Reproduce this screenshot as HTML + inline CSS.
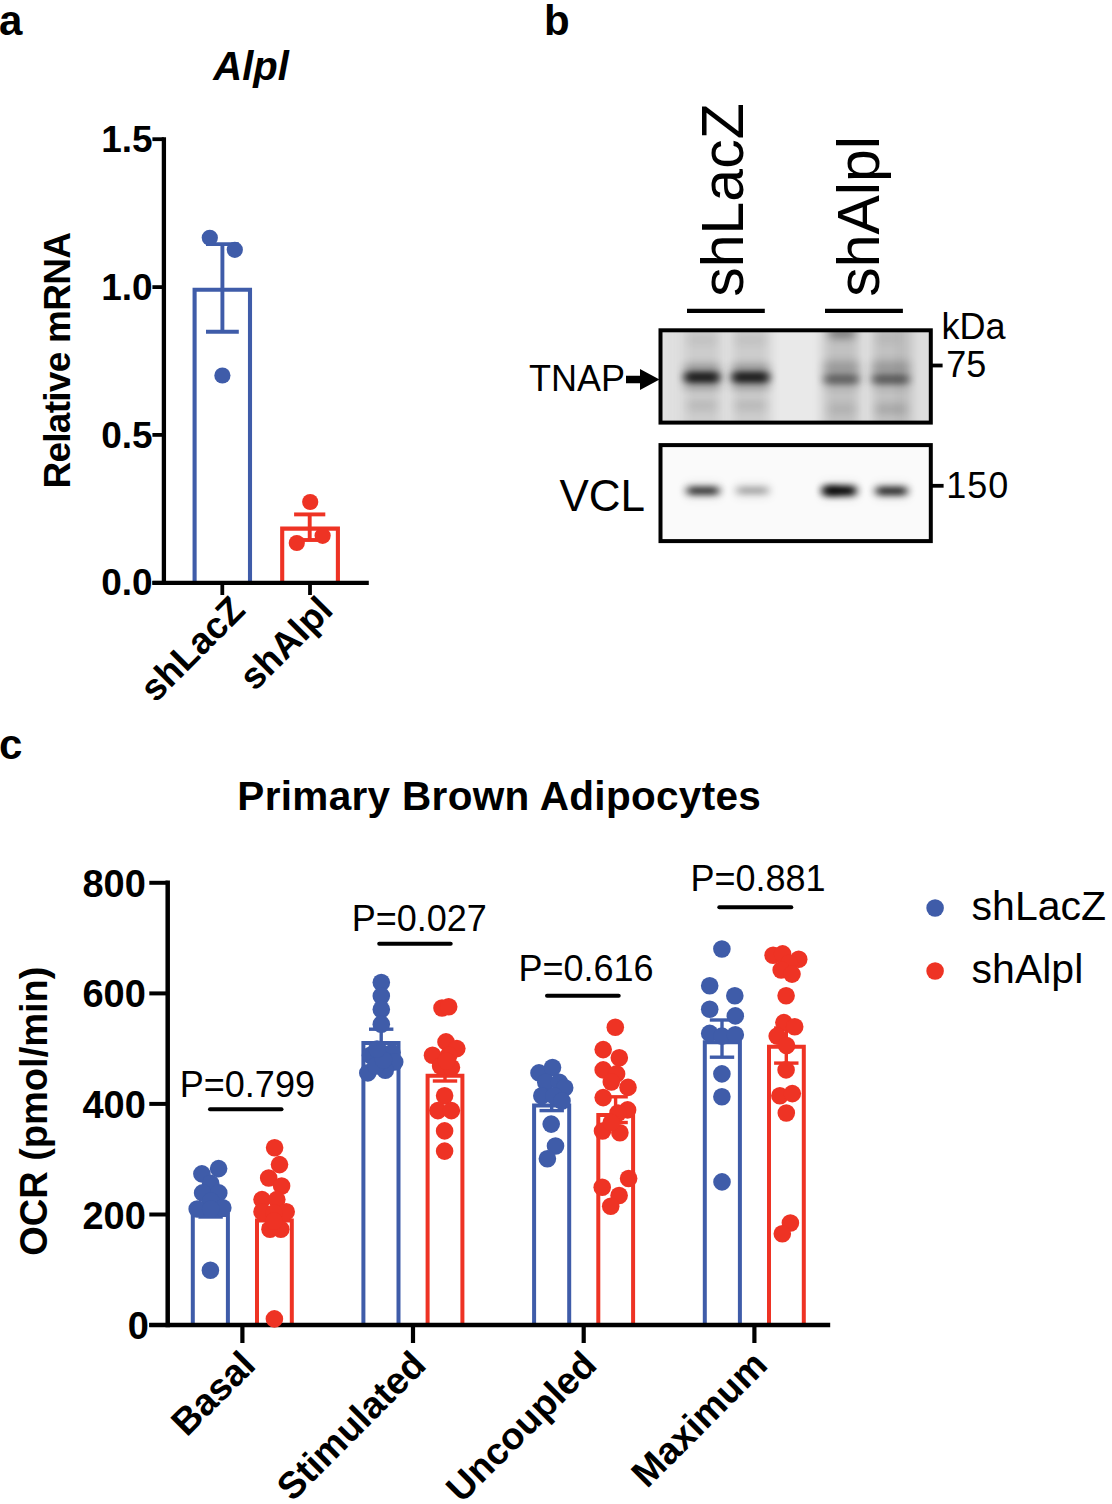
<!DOCTYPE html>
<html><head><meta charset="utf-8"><title>Figure</title>
<style>html,body{margin:0;padding:0;background:#fff;}svg{display:block;}text{font-family:"Liberation Sans",sans-serif;fill:#000;}</style>
</head><body>
<svg width="1112" height="1504" viewBox="0 0 1112 1504">
<rect width="1112" height="1504" fill="#fff"/>
<text x="-1.0" y="34.6" font-size="42" font-weight="bold" font-style="normal" text-anchor="start">a</text>
<text x="213.3" y="79.8" font-size="40" font-weight="bold" font-style="italic" text-anchor="start">Alpl</text>
<path d="M194.6 582.8 V289.8 H250.0 V582.8" fill="none" stroke="#3F5CA9" stroke-width="4.1"/>
<path d="M282.2 582.8 V528.6 H337.9 V582.8" fill="none" stroke="#EE3324" stroke-width="4.1"/>
<line x1="163.9" y1="137.2" x2="163.9" y2="584.9" stroke="#000" stroke-width="4.3" stroke-linecap="butt"/>
<line x1="152.4" y1="582.8" x2="368.8" y2="582.8" stroke="#000" stroke-width="4.3" stroke-linecap="butt"/>
<line x1="152.4" y1="582.8" x2="163.9" y2="582.8" stroke="#000" stroke-width="3.8" stroke-linecap="butt"/>
<text x="152.6" y="595.4" font-size="37" font-weight="bold" font-style="normal" text-anchor="end">0.0</text>
<line x1="152.4" y1="434.9" x2="163.9" y2="434.9" stroke="#000" stroke-width="3.8" stroke-linecap="butt"/>
<text x="152.6" y="447.5" font-size="37" font-weight="bold" font-style="normal" text-anchor="end">0.5</text>
<line x1="152.4" y1="287.1" x2="163.9" y2="287.1" stroke="#000" stroke-width="3.8" stroke-linecap="butt"/>
<text x="152.6" y="299.7" font-size="37" font-weight="bold" font-style="normal" text-anchor="end">1.0</text>
<line x1="152.4" y1="139.2" x2="163.9" y2="139.2" stroke="#000" stroke-width="3.8" stroke-linecap="butt"/>
<text x="152.6" y="151.8" font-size="37" font-weight="bold" font-style="normal" text-anchor="end">1.5</text>
<line x1="222.3" y1="582.8" x2="222.3" y2="595.0" stroke="#000" stroke-width="3.8" stroke-linecap="butt"/>
<line x1="310.0" y1="582.8" x2="310.0" y2="595.0" stroke="#000" stroke-width="3.8" stroke-linecap="butt"/>
<line x1="222.4" y1="244.1" x2="222.4" y2="331.7" stroke="#3F5CA9" stroke-width="3.9" stroke-linecap="butt"/>
<line x1="206.0" y1="244.1" x2="238.8" y2="244.1" stroke="#3F5CA9" stroke-width="3.9" stroke-linecap="butt"/>
<line x1="206.0" y1="331.7" x2="238.8" y2="331.7" stroke="#3F5CA9" stroke-width="3.9" stroke-linecap="butt"/>
<line x1="309.7" y1="514.4" x2="309.7" y2="540.0" stroke="#EE3324" stroke-width="3.9" stroke-linecap="butt"/>
<line x1="294.1" y1="514.4" x2="325.3" y2="514.4" stroke="#EE3324" stroke-width="3.9" stroke-linecap="butt"/>
<line x1="294.1" y1="540.0" x2="325.3" y2="540.0" stroke="#EE3324" stroke-width="3.9" stroke-linecap="butt"/>
<circle cx="209.8" cy="237.8" r="8.1" fill="#3F5CA9"/>
<circle cx="234.8" cy="249.8" r="8.1" fill="#3F5CA9"/>
<circle cx="222.4" cy="375.5" r="8.1" fill="#3F5CA9"/>
<circle cx="310.2" cy="502.0" r="8.1" fill="#EE3324"/>
<circle cx="296.8" cy="543.0" r="8.1" fill="#EE3324"/>
<circle cx="322.6" cy="535.8" r="8.1" fill="#EE3324"/>
<text x="69.9" y="360.3" font-size="37" font-weight="bold" font-style="normal" text-anchor="middle" transform="rotate(-90 69.9 360.3)" textLength="256.5" lengthAdjust="spacing">Relative mRNA</text>
<text x="247.0" y="612.0" font-size="37" font-weight="bold" font-style="normal" text-anchor="end" transform="rotate(-45 247.0 612.0)">shLacZ</text>
<text x="334.7" y="612.0" font-size="37" font-weight="bold" font-style="normal" text-anchor="end" transform="rotate(-45 334.7 612.0)">shAlpl</text>
<text x="544.1" y="34.6" font-size="42" font-weight="bold" font-style="normal" text-anchor="start">b</text>
<text x="742.6" y="296.8" font-size="59" font-weight="normal" font-style="normal" text-anchor="start" transform="rotate(-90 742.6 296.8)">shLacZ</text>
<text x="878.6" y="296.8" font-size="59" font-weight="normal" font-style="normal" text-anchor="start" transform="rotate(-90 878.6 296.8)">shAlpl</text>
<line x1="687.0" y1="310.8" x2="764.8" y2="310.8" stroke="#000" stroke-width="4.2" stroke-linecap="butt"/>
<line x1="825.0" y1="310.8" x2="902.9" y2="310.8" stroke="#000" stroke-width="4.2" stroke-linecap="butt"/>
<defs>
<filter id="b3" x="-40%" y="-150%" width="180%" height="400%"><feGaussianBlur stdDeviation="4 2.8"/></filter>
<filter id="b4" x="-40%" y="-200%" width="180%" height="500%"><feGaussianBlur stdDeviation="4.2 3.0"/></filter>
<filter id="b5" x="-40%" y="-150%" width="180%" height="400%"><feGaussianBlur stdDeviation="5 4.5"/></filter>
<filter id="b8" x="-50%" y="-50%" width="200%" height="200%"><feGaussianBlur stdDeviation="6 8"/></filter>
<clipPath id="c1"><rect x="660.5" y="330.3" width="270.3" height="92.3"/></clipPath>
<clipPath id="c2"><rect x="660.5" y="445.1" width="270.3" height="96.0"/></clipPath>
</defs>
<g clip-path="url(#c1)">
<rect x="655" y="325" width="285" height="105" fill="#e9e9e9"/>
<rect x="683" y="312" width="39" height="128" rx="0" fill="#000" opacity="0.12" filter="url(#b8)"/>
<rect x="731" y="312" width="39" height="128" rx="0" fill="#000" opacity="0.12" filter="url(#b8)"/>
<rect x="823" y="312" width="37" height="128" rx="0" fill="#000" opacity="0.17" filter="url(#b8)"/>
<rect x="871" y="312" width="39" height="128" rx="0" fill="#000" opacity="0.17" filter="url(#b8)"/>
<rect x="900" y="312" width="40" height="128" rx="0" fill="#000" opacity="0.05" filter="url(#b8)"/>
<rect x="660" y="312" width="20" height="128" rx="0" fill="#000" opacity="0.04" filter="url(#b8)"/>
<rect x="684" y="364.5" width="36" height="24" rx="4" fill="#000" opacity="0.3" filter="url(#b5)"/>
<rect x="685" y="372" width="34" height="10.5" rx="4" fill="#000" opacity="0.74" filter="url(#b3)"/>
<rect x="687" y="401" width="30" height="9" rx="4" fill="#000" opacity="0.1" filter="url(#b5)"/>
<rect x="687" y="336" width="30" height="8" rx="4" fill="#000" opacity="0.06" filter="url(#b5)"/>
<rect x="731.5" y="364.5" width="38" height="24" rx="4" fill="#000" opacity="0.3" filter="url(#b5)"/>
<rect x="732.5" y="372" width="36" height="10.5" rx="4" fill="#000" opacity="0.74" filter="url(#b3)"/>
<rect x="734.5" y="401" width="32" height="9" rx="4" fill="#000" opacity="0.1" filter="url(#b5)"/>
<rect x="734.5" y="336" width="32" height="8" rx="4" fill="#000" opacity="0.06" filter="url(#b5)"/>
<rect x="823.5" y="361" width="36" height="26" rx="4" fill="#000" opacity="0.2" filter="url(#b5)"/>
<rect x="824.5" y="374.5" width="34" height="9.5" rx="4" fill="#000" opacity="0.33" filter="url(#b3)"/>
<rect x="871.5" y="361" width="38" height="26" rx="4" fill="#000" opacity="0.2" filter="url(#b5)"/>
<rect x="872.5" y="374.5" width="36" height="9.5" rx="4" fill="#000" opacity="0.36" filter="url(#b3)"/>
<rect x="829" y="328" width="26" height="10" rx="4" fill="#000" opacity="0.38" filter="url(#b5)"/>
<rect x="876" y="334" width="24" height="8" rx="4" fill="#000" opacity="0.06" filter="url(#b5)"/>
<rect x="828" y="405" width="28" height="8" rx="4" fill="#000" opacity="0.1" filter="url(#b5)"/>
<rect x="875" y="405" width="32" height="8" rx="4" fill="#000" opacity="0.16" filter="url(#b5)"/>
</g>
<rect x="660.5" y="330.3" width="270.3" height="92.3" fill="none" stroke="#000" stroke-width="4.0"/>
<g clip-path="url(#c2)">
<rect x="655" y="440" width="285" height="110" fill="#fafafa"/>
<rect x="684" y="481.8" width="38" height="18.0" rx="5" fill="#000" opacity="0.07" filter="url(#b5)"/>
<rect x="687" y="486.8" width="32" height="8.0" rx="4" fill="#000" opacity="0.8" filter="url(#b4)"/>
<rect x="734" y="482.6" width="37" height="16.0" rx="5" fill="#000" opacity="0.07" filter="url(#b5)"/>
<rect x="737" y="487.6" width="31" height="6.0" rx="4" fill="#000" opacity="0.34" filter="url(#b4)"/>
<rect x="820" y="480.8" width="39" height="20.0" rx="5" fill="#000" opacity="0.07" filter="url(#b5)"/>
<rect x="823" y="485.8" width="33" height="10.0" rx="4" fill="#000" opacity="0.98" filter="url(#b4)"/>
<rect x="873" y="481.8" width="37" height="18.5" rx="5" fill="#000" opacity="0.07" filter="url(#b5)"/>
<rect x="876" y="486.8" width="31" height="8.5" rx="4" fill="#000" opacity="0.84" filter="url(#b4)"/>
<rect x="823" y="486.5" width="18" height="8.5" rx="4" fill="#000" opacity="0.35" filter="url(#b4)"/>
</g>
<rect x="660.5" y="445.1" width="270.3" height="96.0" fill="none" stroke="#000" stroke-width="4.0"/>
<text x="941.5" y="339.1" font-size="36" font-weight="normal" font-style="normal" text-anchor="start">kDa</text>
<text x="946.3" y="377.0" font-size="36" font-weight="normal" font-style="normal" text-anchor="start">75</text>
<text x="946.2" y="498.2" font-size="36" font-weight="normal" font-style="normal" text-anchor="start" textLength="62" lengthAdjust="spacing">150</text>
<line x1="932.0" y1="365.5" x2="942.6" y2="365.5" stroke="#000" stroke-width="3.8" stroke-linecap="butt"/>
<line x1="932.0" y1="485.8" x2="943.6" y2="485.8" stroke="#000" stroke-width="3.8" stroke-linecap="butt"/>
<text x="625.0" y="390.8" font-size="36" font-weight="normal" font-style="normal" text-anchor="end">TNAP</text>
<path d="M626 375.8 H640 V369.1 L659.5 379.5 L640 390 V383.2 H626 Z" fill="#000"/>
<text x="559.5" y="510.7" font-size="44" font-weight="normal" font-style="normal" text-anchor="start">VCL</text>
<text x="-1.0" y="758.5" font-size="42" font-weight="bold" font-style="normal" text-anchor="start">c</text>
<text x="237.3" y="810.3" font-size="40.5" font-weight="bold" font-style="normal" text-anchor="start" textLength="523.6" lengthAdjust="spacing">Primary Brown Adipocytes</text>
<path d="M192.8 1325.0 V1215.0 H227.9 V1325.0" fill="none" stroke="#3F5CA9" stroke-width="4.0"/>
<path d="M257.0 1325.0 V1220.5 H291.8 V1325.0" fill="none" stroke="#EE3324" stroke-width="4.0"/>
<path d="M363.4 1325.0 V1043.0 H398.5 V1325.0" fill="none" stroke="#3F5CA9" stroke-width="4.0"/>
<path d="M427.6 1325.0 V1075.7 H462.4 V1325.0" fill="none" stroke="#EE3324" stroke-width="4.0"/>
<path d="M534.1 1325.0 V1105.4 H569.2 V1325.0" fill="none" stroke="#3F5CA9" stroke-width="4.0"/>
<path d="M598.3 1325.0 V1115.0 H633.1 V1325.0" fill="none" stroke="#EE3324" stroke-width="4.0"/>
<path d="M704.8 1325.0 V1042.3 H739.9 V1325.0" fill="none" stroke="#3F5CA9" stroke-width="4.0"/>
<path d="M769.0 1325.0 V1046.8 H803.8 V1325.0" fill="none" stroke="#EE3324" stroke-width="4.0"/>
<line x1="167.7" y1="880.6" x2="167.7" y2="1327.2" stroke="#000" stroke-width="4.5" stroke-linecap="butt"/>
<line x1="149.3" y1="1325.0" x2="830.2" y2="1325.0" stroke="#000" stroke-width="4.5" stroke-linecap="butt"/>
<line x1="149.3" y1="1325.0" x2="167.7" y2="1325.0" stroke="#000" stroke-width="4.0" stroke-linecap="butt"/>
<text x="149.0" y="1339.0" font-size="38" font-weight="bold" font-style="normal" text-anchor="end">0</text>
<line x1="149.3" y1="1214.5" x2="167.7" y2="1214.5" stroke="#000" stroke-width="4.0" stroke-linecap="butt"/>
<text x="145.8" y="1228.5" font-size="38" font-weight="bold" font-style="normal" text-anchor="end">200</text>
<line x1="149.3" y1="1103.9" x2="167.7" y2="1103.9" stroke="#000" stroke-width="4.0" stroke-linecap="butt"/>
<text x="145.8" y="1117.9" font-size="38" font-weight="bold" font-style="normal" text-anchor="end">400</text>
<line x1="149.3" y1="993.4" x2="167.7" y2="993.4" stroke="#000" stroke-width="4.0" stroke-linecap="butt"/>
<text x="145.8" y="1007.4" font-size="38" font-weight="bold" font-style="normal" text-anchor="end">600</text>
<line x1="149.3" y1="882.8" x2="167.7" y2="882.8" stroke="#000" stroke-width="4.0" stroke-linecap="butt"/>
<text x="145.8" y="896.8" font-size="38" font-weight="bold" font-style="normal" text-anchor="end">800</text>
<line x1="242.4" y1="1325.0" x2="242.4" y2="1343.0" stroke="#000" stroke-width="4.2" stroke-linecap="butt"/>
<line x1="413.0" y1="1325.0" x2="413.0" y2="1343.0" stroke="#000" stroke-width="4.2" stroke-linecap="butt"/>
<line x1="583.7" y1="1325.0" x2="583.7" y2="1343.0" stroke="#000" stroke-width="4.2" stroke-linecap="butt"/>
<line x1="754.4" y1="1325.0" x2="754.4" y2="1343.0" stroke="#000" stroke-width="4.2" stroke-linecap="butt"/>
<line x1="210.6" y1="1203.0" x2="210.6" y2="1217.0" stroke="#3F5CA9" stroke-width="3.4" stroke-linecap="butt"/>
<line x1="198.4" y1="1203.0" x2="222.8" y2="1203.0" stroke="#3F5CA9" stroke-width="3.4" stroke-linecap="butt"/>
<line x1="198.4" y1="1217.0" x2="222.8" y2="1217.0" stroke="#3F5CA9" stroke-width="3.4" stroke-linecap="butt"/>
<line x1="274.2" y1="1208.0" x2="274.2" y2="1226.0" stroke="#EE3324" stroke-width="3.4" stroke-linecap="butt"/>
<line x1="262.0" y1="1208.0" x2="286.4" y2="1208.0" stroke="#EE3324" stroke-width="3.4" stroke-linecap="butt"/>
<line x1="262.0" y1="1226.0" x2="286.4" y2="1226.0" stroke="#EE3324" stroke-width="3.4" stroke-linecap="butt"/>
<line x1="381.2" y1="1029.2" x2="381.2" y2="1053.0" stroke="#3F5CA9" stroke-width="3.4" stroke-linecap="butt"/>
<line x1="369.0" y1="1029.2" x2="393.4" y2="1029.2" stroke="#3F5CA9" stroke-width="3.4" stroke-linecap="butt"/>
<line x1="369.0" y1="1053.0" x2="393.4" y2="1053.0" stroke="#3F5CA9" stroke-width="3.4" stroke-linecap="butt"/>
<line x1="445.0" y1="1066.0" x2="445.0" y2="1081.0" stroke="#EE3324" stroke-width="3.4" stroke-linecap="butt"/>
<line x1="432.8" y1="1066.0" x2="457.2" y2="1066.0" stroke="#EE3324" stroke-width="3.4" stroke-linecap="butt"/>
<line x1="432.8" y1="1081.0" x2="457.2" y2="1081.0" stroke="#EE3324" stroke-width="3.4" stroke-linecap="butt"/>
<line x1="551.7" y1="1096.0" x2="551.7" y2="1110.6" stroke="#3F5CA9" stroke-width="3.4" stroke-linecap="butt"/>
<line x1="539.5" y1="1096.0" x2="563.9" y2="1096.0" stroke="#3F5CA9" stroke-width="3.4" stroke-linecap="butt"/>
<line x1="539.5" y1="1110.6" x2="563.9" y2="1110.6" stroke="#3F5CA9" stroke-width="3.4" stroke-linecap="butt"/>
<line x1="615.6" y1="1096.8" x2="615.6" y2="1122.5" stroke="#EE3324" stroke-width="3.4" stroke-linecap="butt"/>
<line x1="603.4" y1="1096.8" x2="627.8" y2="1096.8" stroke="#EE3324" stroke-width="3.4" stroke-linecap="butt"/>
<line x1="603.4" y1="1122.5" x2="627.8" y2="1122.5" stroke="#EE3324" stroke-width="3.4" stroke-linecap="butt"/>
<line x1="722.0" y1="1020.0" x2="722.0" y2="1057.2" stroke="#3F5CA9" stroke-width="3.4" stroke-linecap="butt"/>
<line x1="709.8" y1="1020.0" x2="734.2" y2="1020.0" stroke="#3F5CA9" stroke-width="3.4" stroke-linecap="butt"/>
<line x1="709.8" y1="1057.2" x2="734.2" y2="1057.2" stroke="#3F5CA9" stroke-width="3.4" stroke-linecap="butt"/>
<line x1="786.3" y1="1028.0" x2="786.3" y2="1063.1" stroke="#EE3324" stroke-width="3.4" stroke-linecap="butt"/>
<line x1="774.1" y1="1028.0" x2="798.5" y2="1028.0" stroke="#EE3324" stroke-width="3.4" stroke-linecap="butt"/>
<line x1="774.1" y1="1063.1" x2="798.5" y2="1063.1" stroke="#EE3324" stroke-width="3.4" stroke-linecap="butt"/>
<circle cx="210.4" cy="1270.3" r="8.8" fill="#3F5CA9"/>
<circle cx="201.9" cy="1173.9" r="8.8" fill="#3F5CA9"/>
<circle cx="218.6" cy="1168.6" r="8.8" fill="#3F5CA9"/>
<circle cx="210.7" cy="1183.4" r="8.8" fill="#3F5CA9"/>
<circle cx="202.6" cy="1192.9" r="8.8" fill="#3F5CA9"/>
<circle cx="218.8" cy="1192.9" r="8.8" fill="#3F5CA9"/>
<circle cx="210.7" cy="1201.0" r="8.8" fill="#3F5CA9"/>
<circle cx="197.2" cy="1209.0" r="8.8" fill="#3F5CA9"/>
<circle cx="222.8" cy="1207.7" r="8.8" fill="#3F5CA9"/>
<circle cx="210.7" cy="1209.0" r="8.8" fill="#3F5CA9"/>
<circle cx="381.3" cy="982.5" r="8.8" fill="#3F5CA9"/>
<circle cx="381.3" cy="996.0" r="8.8" fill="#3F5CA9"/>
<circle cx="381.3" cy="1009.5" r="8.8" fill="#3F5CA9"/>
<circle cx="381.3" cy="1024.3" r="8.8" fill="#3F5CA9"/>
<circle cx="370.5" cy="1055.3" r="8.8" fill="#3F5CA9"/>
<circle cx="381.3" cy="1052.6" r="8.8" fill="#3F5CA9"/>
<circle cx="392.0" cy="1052.6" r="8.8" fill="#3F5CA9"/>
<circle cx="394.7" cy="1062.0" r="8.8" fill="#3F5CA9"/>
<circle cx="367.8" cy="1072.9" r="8.8" fill="#3F5CA9"/>
<circle cx="385.3" cy="1070.2" r="8.8" fill="#3F5CA9"/>
<circle cx="375.9" cy="1066.0" r="8.8" fill="#3F5CA9"/>
<circle cx="383.5" cy="1060.0" r="8.8" fill="#3F5CA9"/>
<circle cx="377.0" cy="1049.0" r="8.8" fill="#3F5CA9"/>
<circle cx="539.0" cy="1072.9" r="8.8" fill="#3F5CA9"/>
<circle cx="552.5" cy="1067.5" r="8.8" fill="#3F5CA9"/>
<circle cx="545.8" cy="1082.3" r="8.8" fill="#3F5CA9"/>
<circle cx="559.3" cy="1082.3" r="8.8" fill="#3F5CA9"/>
<circle cx="564.7" cy="1087.7" r="8.8" fill="#3F5CA9"/>
<circle cx="541.8" cy="1095.8" r="8.8" fill="#3F5CA9"/>
<circle cx="553.9" cy="1095.8" r="8.8" fill="#3F5CA9"/>
<circle cx="562.0" cy="1101.0" r="8.8" fill="#3F5CA9"/>
<circle cx="551.2" cy="1124.1" r="8.8" fill="#3F5CA9"/>
<circle cx="555.5" cy="1146.0" r="8.8" fill="#3F5CA9"/>
<circle cx="547.4" cy="1158.8" r="8.8" fill="#3F5CA9"/>
<circle cx="721.9" cy="949.0" r="8.8" fill="#3F5CA9"/>
<circle cx="709.7" cy="985.7" r="8.8" fill="#3F5CA9"/>
<circle cx="734.8" cy="995.7" r="8.8" fill="#3F5CA9"/>
<circle cx="709.7" cy="1009.2" r="8.8" fill="#3F5CA9"/>
<circle cx="735.3" cy="1015.9" r="8.8" fill="#3F5CA9"/>
<circle cx="709.7" cy="1033.4" r="8.8" fill="#3F5CA9"/>
<circle cx="721.9" cy="1036.1" r="8.8" fill="#3F5CA9"/>
<circle cx="735.3" cy="1034.8" r="8.8" fill="#3F5CA9"/>
<circle cx="721.9" cy="1073.9" r="8.8" fill="#3F5CA9"/>
<circle cx="721.9" cy="1096.8" r="8.8" fill="#3F5CA9"/>
<circle cx="722.0" cy="1181.9" r="8.8" fill="#3F5CA9"/>
<circle cx="274.4" cy="1318.9" r="8.8" fill="#EE3324"/>
<circle cx="274.6" cy="1147.8" r="8.8" fill="#EE3324"/>
<circle cx="279.5" cy="1164.6" r="8.8" fill="#EE3324"/>
<circle cx="268.7" cy="1178.0" r="8.8" fill="#EE3324"/>
<circle cx="281.6" cy="1186.0" r="8.8" fill="#EE3324"/>
<circle cx="262.0" cy="1199.6" r="8.8" fill="#EE3324"/>
<circle cx="276.8" cy="1199.6" r="8.8" fill="#EE3324"/>
<circle cx="286.2" cy="1211.8" r="8.8" fill="#EE3324"/>
<circle cx="262.0" cy="1211.8" r="8.8" fill="#EE3324"/>
<circle cx="274.0" cy="1213.0" r="8.8" fill="#EE3324"/>
<circle cx="270.0" cy="1229.3" r="8.8" fill="#EE3324"/>
<circle cx="280.8" cy="1229.3" r="8.8" fill="#EE3324"/>
<circle cx="274.0" cy="1221.0" r="8.8" fill="#EE3324"/>
<circle cx="442.0" cy="1008.0" r="8.8" fill="#EE3324"/>
<circle cx="448.7" cy="1006.8" r="8.8" fill="#EE3324"/>
<circle cx="446.0" cy="1041.9" r="8.8" fill="#EE3324"/>
<circle cx="456.8" cy="1048.6" r="8.8" fill="#EE3324"/>
<circle cx="432.5" cy="1055.3" r="8.8" fill="#EE3324"/>
<circle cx="448.7" cy="1055.3" r="8.8" fill="#EE3324"/>
<circle cx="440.6" cy="1066.0" r="8.8" fill="#EE3324"/>
<circle cx="451.4" cy="1067.5" r="8.8" fill="#EE3324"/>
<circle cx="444.6" cy="1095.8" r="8.8" fill="#EE3324"/>
<circle cx="437.9" cy="1110.6" r="8.8" fill="#EE3324"/>
<circle cx="451.4" cy="1110.6" r="8.8" fill="#EE3324"/>
<circle cx="444.6" cy="1130.9" r="8.8" fill="#EE3324"/>
<circle cx="444.6" cy="1151.1" r="8.8" fill="#EE3324"/>
<circle cx="446.5" cy="1061.0" r="8.8" fill="#EE3324"/>
<circle cx="615.3" cy="1027.2" r="8.8" fill="#EE3324"/>
<circle cx="603.2" cy="1049.6" r="8.8" fill="#EE3324"/>
<circle cx="619.3" cy="1057.7" r="8.8" fill="#EE3324"/>
<circle cx="603.2" cy="1069.9" r="8.8" fill="#EE3324"/>
<circle cx="616.6" cy="1073.9" r="8.8" fill="#EE3324"/>
<circle cx="611.3" cy="1082.0" r="8.8" fill="#EE3324"/>
<circle cx="628.0" cy="1087.4" r="8.8" fill="#EE3324"/>
<circle cx="603.2" cy="1097.6" r="8.8" fill="#EE3324"/>
<circle cx="627.6" cy="1109.9" r="8.8" fill="#EE3324"/>
<circle cx="618.0" cy="1113.0" r="8.8" fill="#EE3324"/>
<circle cx="602.5" cy="1131.0" r="8.8" fill="#EE3324"/>
<circle cx="619.9" cy="1132.8" r="8.8" fill="#EE3324"/>
<circle cx="611.2" cy="1122.6" r="8.8" fill="#EE3324"/>
<circle cx="628.6" cy="1178.5" r="8.8" fill="#EE3324"/>
<circle cx="602.2" cy="1187.2" r="8.8" fill="#EE3324"/>
<circle cx="619.1" cy="1195.5" r="8.8" fill="#EE3324"/>
<circle cx="610.7" cy="1206.2" r="8.8" fill="#EE3324"/>
<circle cx="773.1" cy="955.2" r="8.8" fill="#EE3324"/>
<circle cx="782.6" cy="953.9" r="8.8" fill="#EE3324"/>
<circle cx="798.7" cy="959.3" r="8.8" fill="#EE3324"/>
<circle cx="789.3" cy="963.3" r="8.8" fill="#EE3324"/>
<circle cx="781.2" cy="970.0" r="8.8" fill="#EE3324"/>
<circle cx="792.0" cy="974.1" r="8.8" fill="#EE3324"/>
<circle cx="786.1" cy="995.7" r="8.8" fill="#EE3324"/>
<circle cx="783.9" cy="1022.6" r="8.8" fill="#EE3324"/>
<circle cx="794.7" cy="1026.7" r="8.8" fill="#EE3324"/>
<circle cx="777.2" cy="1036.1" r="8.8" fill="#EE3324"/>
<circle cx="786.6" cy="1045.6" r="8.8" fill="#EE3324"/>
<circle cx="786.1" cy="1069.9" r="8.8" fill="#EE3324"/>
<circle cx="779.9" cy="1095.8" r="8.8" fill="#EE3324"/>
<circle cx="792.3" cy="1093.6" r="8.8" fill="#EE3324"/>
<circle cx="786.3" cy="1113.0" r="8.8" fill="#EE3324"/>
<circle cx="790.4" cy="1223.0" r="8.8" fill="#EE3324"/>
<circle cx="782.3" cy="1233.7" r="8.8" fill="#EE3324"/>
<text x="179.8" y="1096.6" font-size="36" font-weight="normal" font-style="normal" text-anchor="start">P=0.799</text>
<line x1="210.0" y1="1109.3" x2="281.5" y2="1109.3" stroke="#000" stroke-width="4.0" stroke-linecap="round"/>
<text x="351.7" y="930.7" font-size="36" font-weight="normal" font-style="normal" text-anchor="start">P=0.027</text>
<line x1="379.2" y1="943.7" x2="450.7" y2="943.7" stroke="#000" stroke-width="4.0" stroke-linecap="round"/>
<text x="518.4" y="980.8" font-size="36" font-weight="normal" font-style="normal" text-anchor="start">P=0.616</text>
<line x1="547.0" y1="995.8" x2="618.7" y2="995.8" stroke="#000" stroke-width="4.0" stroke-linecap="round"/>
<text x="690.4" y="891.2" font-size="36" font-weight="normal" font-style="normal" text-anchor="start">P=0.881</text>
<line x1="719.3" y1="907.2" x2="791.3" y2="907.2" stroke="#000" stroke-width="4.0" stroke-linecap="round"/>
<circle cx="935.1" cy="908.0" r="8.8" fill="#3F5CA9"/>
<circle cx="935.1" cy="971.0" r="8.8" fill="#EE3324"/>
<text x="971.6" y="920.1" font-size="41" font-weight="normal" font-style="normal" text-anchor="start">shLacZ</text>
<text x="971.6" y="983.1" font-size="41" font-weight="normal" font-style="normal" text-anchor="start">shAlpl</text>
<text x="47.0" y="1111.2" font-size="38" font-weight="bold" font-style="normal" text-anchor="middle" transform="rotate(-90 47.0 1111.2)">OCR (pmol/min)</text>
<text x="257.4" y="1367.0" font-size="37.5" font-weight="bold" font-style="normal" text-anchor="end" transform="rotate(-45 257.4 1367.0)">Basal</text>
<text x="428.0" y="1367.0" font-size="37.5" font-weight="bold" font-style="normal" text-anchor="end" transform="rotate(-45 428.0 1367.0)">Stimulated</text>
<text x="598.7" y="1367.0" font-size="37.5" font-weight="bold" font-style="normal" text-anchor="end" transform="rotate(-45 598.7 1367.0)">Uncoupled</text>
<text x="769.4" y="1367.0" font-size="37.5" font-weight="bold" font-style="normal" text-anchor="end" transform="rotate(-45 769.4 1367.0)">Maximum</text>
</svg>
</body></html>
